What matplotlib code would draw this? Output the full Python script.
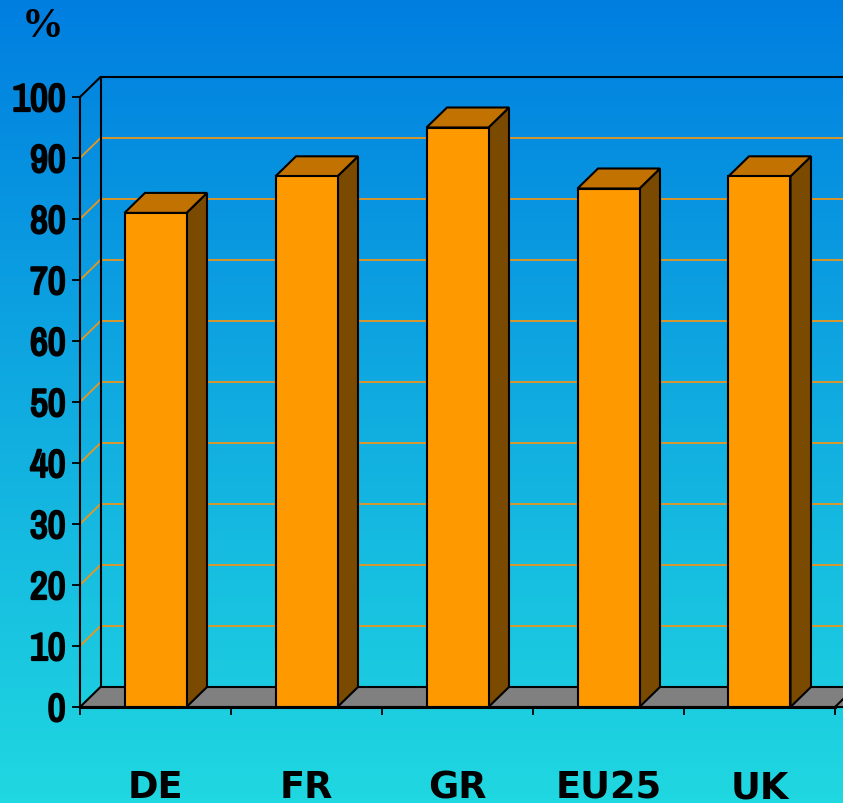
import matplotlib
matplotlib.use("Agg")
import matplotlib.pyplot as plt
import matplotlib.patheffects as pe
import numpy as np
from matplotlib.patches import Polygon, Rectangle

# data
countries = ["DE", "FR", "GR", "EU25", "UK"]
values = [81, 87, 95, 85, 87]
yticks = list(range(0, 101, 10))
unit_label = "%"

W, H = 843, 804
fig = plt.figure(figsize=(W / 100, H / 100), dpi=100)

# gradient background
bg = fig.add_axes([0, 0, 1, 1])
top = np.array([0, 126, 224]) / 255
bot = np.array([32, 216, 224]) / 255
t = np.linspace(0, 1, 256)[:, None]
grad = top[None, :] * (1 - t) + bot[None, :] * t
bg.imshow(grad[:, None, :], aspect="auto", extent=[0, 1, 0, 1])
bg.axis("off")

# front plane of the 3D chart: x 80..835 px, y 98..708 px (from top)
x0px, x1px, ytop, ybot = 80, 835, 98, 708
ax = fig.add_axes([x0px / W, (H - ybot) / H, (x1px - x0px) / W, (ybot - ytop) / H])
ax.patch.set_alpha(0)
n = len(countries)
ax.set_xlim(0, n)
ax.set_ylim(0, 100)

px_x = (x1px - x0px) / n          # px per category
px_y = (ybot - ytop) / 100        # px per unit
dx = 20.5 / px_x                  # depth offset in data units
dy = 20 / px_y
ext = n + 1                       # lines run off the right edge

grid_c = "#E8961E"
# side-wall + back-wall gridlines
for v in yticks[1:-1]:
    ax.plot([0, dx, ext], [v, v + dy, v + dy], color=grid_c, lw=1.3,
            clip_on=False, zorder=1)
# top edge and left edge of back wall
ax.plot([0, dx, ext], [100, 100 + dy, 100 + dy], color="black", lw=1.5,
        clip_on=False, zorder=1)
ax.plot([dx, dx], [dy, 100 + dy], color="black", lw=1.5, clip_on=False, zorder=1)

# floor
floor = Polygon([(0, 0), (ext, 0), (ext + dx, dy), (dx, dy)], closed=True,
                facecolor="#808080", edgecolor="black", lw=1.5, clip_on=False, zorder=2)
ax.add_patch(floor)
ax.plot([n, n + dx], [0, dy], color="black", lw=1.5, clip_on=False, zorder=2)

# bars
bw = 62 / px_x
for i, v in enumerate(values):
    xa = i + 0.5 - bw / 2
    xb = i + 0.5 + bw / 2
    side = Polygon([(xb, 0), (xb + dx, dy), (xb + dx, v + dy), (xb, v)], closed=True,
                   facecolor="#7A4A00", edgecolor="black", lw=1.5, clip_on=False, zorder=3)
    topf = Polygon([(xa, v), (xb, v), (xb + dx, v + dy), (xa + dx, v + dy)], closed=True,
                   facecolor="#C27200", edgecolor="black", lw=1.5, clip_on=False, zorder=3)
    front = Rectangle((xa, 0), bw, v, facecolor="#FF9900", edgecolor="black",
                      lw=1.5, clip_on=False, zorder=4)
    ax.add_patch(side)
    ax.add_patch(topf)
    ax.add_patch(front)

# axes / ticks
for s in ["top", "right"]:
    ax.spines[s].set_visible(False)
ax.spines["left"].set_linewidth(1.5)
ax.spines["bottom"].set_linewidth(2.2)
ax.spines["bottom"].set_bounds(0, n)
ax.spines["left"].set_zorder(5)
ax.spines["bottom"].set_zorder(5)

ax.set_yticks(yticks)
ylabs = ax.set_yticklabels([str(v) for v in yticks], fontsize=28, fontweight="bold",
                           family=["Archivo Narrow", "DejaVu Sans"])
# narrow font only comes in regular here, thicken it
for lab in ylabs:
    lab.set_path_effects([pe.withStroke(linewidth=1.6, foreground="black")])
ax.tick_params(axis="y", direction="out", length=5.5, width=1.3, pad=5)

ax.set_xticks(range(n + 1))
ax.set_xticklabels([])
ax.tick_params(axis="x", which="major", direction="out", length=6, width=1.3)
ax.set_xticks([i + 0.5 for i in range(n)], minor=True)
ax.set_xticklabels(countries, minor=True, fontsize=26.5, fontweight="bold",
                   family="DejaVu Sans")
ax.tick_params(axis="x", which="minor", length=0, pad=44)

fig.text(22 / W, 1 - 8 / H, unit_label, fontsize=30, fontweight="bold",
         family="Liberation Serif", ha="left", va="top")

fig.savefig("out.png", dpi=100)
